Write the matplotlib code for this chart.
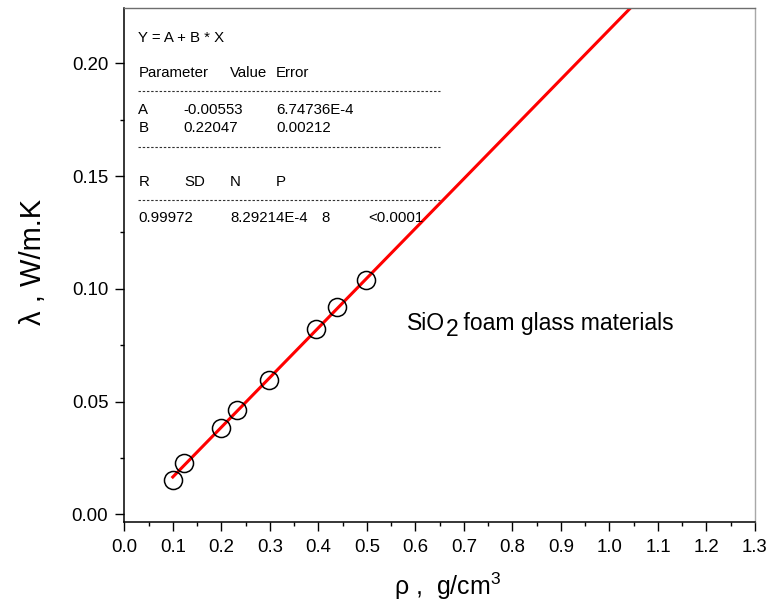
import matplotlib
matplotlib.use('Agg')
import matplotlib.pyplot as plt
from matplotlib.ticker import MultipleLocator
import numpy as np

plt.rcParams['font.family'] = ['Liberation Sans', 'DejaVu Sans']
plt.rcParams['mathtext.fontset'] = 'custom'
plt.rcParams['mathtext.rm'] = 'Liberation Sans'

# 密度 (g/cm3) 與導熱係數 (W/m.K)
density = [0.100, 0.124, 0.199, 0.233, 0.299, 0.395, 0.439, 0.498]
conductivity = [0.0152, 0.0229, 0.0384, 0.0461, 0.0595, 0.0823, 0.0920, 0.1037]

# 線性擬合結果 Y = A + B * X
fit_A = -0.00553
fit_B = 0.22047
fit_A_err = '6.74736E-4'
fit_B_err = '0.00212'
fit_R = '0.99972'
fit_SD = '8.29214E-4'
fit_N = '8'
fit_P = '<0.0001'
fit_x_range = [0.1, 1.2]

fig = plt.figure(figsize=(7.84, 6.06), dpi=100)
ax = fig.add_axes([0.1585, 0.1391, 0.8045, 0.8477])

# 擬合直線
fit_x = np.array(fit_x_range)
ax.plot(fit_x, fit_A + fit_B * fit_x, color='red', lw=2.2, zorder=2)

# 實驗數據點
ax.plot(density, conductivity, 'o', ms=13, mfc='none', mec='black', mew=1.1, zorder=3)

ax.set_xlim(0.0, 1.3)
ax.set_ylim(-0.0033, 0.2245)
ax.xaxis.set_major_locator(MultipleLocator(0.1))
ax.xaxis.set_minor_locator(MultipleLocator(0.05))
ax.yaxis.set_major_locator(MultipleLocator(0.05))
ax.yaxis.set_minor_locator(MultipleLocator(0.025))
ax.xaxis.set_major_formatter(lambda v, p: f'{v:.1f}')
ax.yaxis.set_major_formatter(lambda v, p: f'{v:.2f}')

ax.tick_params(which='both', direction='out', width=1.0, top=False, right=False,
               labelsize=13.4, colors='black')
ax.tick_params(which='major', length=6.5)
ax.tick_params(which='minor', length=3.2)
ax.tick_params(axis='x', pad=6)
ax.tick_params(axis='y', pad=5)

for side in ['left', 'bottom']:
    ax.spines[side].set_linewidth(1.1)
    ax.spines[side].set_color('black')
ax.spines['top'].set_color('#6e6e6e')
ax.spines['right'].set_color('#a8a8a8')
ax.spines['top'].set_linewidth(1.0)
ax.spines['right'].set_linewidth(1.0)

ax.set_xlabel(r'ρ ,  g/cm$^3$', fontsize=18)
ax.set_ylabel('λ , W/m.K', fontsize=21)
ax.xaxis.set_label_coords(0.512, -0.095)
ax.yaxis.set_label_coords(-0.122, 0.505)

# SiO2 標註, 下標 2 與正文同大小
label_fs = 16.5
t_sio = ax.text(0.448, 0.373, 'SiO', transform=ax.transAxes,
                fontsize=label_fs, ha='left', va='baseline')
t_sub = ax.annotate('2', xy=(1, 0), xycoords=t_sio, xytext=(0.5, -4),
                    textcoords='offset points', fontsize=label_fs,
                    ha='left', va='bottom')
ax.annotate(' foam glass materials', xy=(1, 0), xycoords=t_sub,
            xytext=(-1, 4), textcoords='offset points', fontsize=label_fs,
            ha='left', va='bottom')


# 擬合參數表 (以像素位置換算成座標軸比例)
def fx(px):
    return (px - 124.3) / 630.7


def fy(py):
    return (521.7 - py) / 513.7


box_fs = 10.8
table_rows = [
    (41.7, [(138.3, 'Y = A + B * X')]),
    (76.7, [(138.3, 'Parameter'), (230, 'Value'), (276, 'Error')]),
    (114.3, [(138.3, 'A'), (183.3, f'{fit_A:.5f}'), (276, fit_A_err)]),
    (132.3, [(138.3, 'B'), (183.3, f'{fit_B:.5f}'), (276, fit_B_err)]),
    (186, [(138.3, 'R'), (184, 'SD'), (230, 'N'), (276, 'P')]),
    (222.3, [(138.3, fit_R), (230, fit_SD), (321.7, fit_N), (368.3, fit_P)]),
]
for py, cells in table_rows:
    for px, s in cells:
        ax.text(fx(px), fy(py), s, transform=ax.transAxes, fontsize=box_fs,
                ha='left', va='baseline', color='black')

for py in [91, 146.7, 200]:
    ax.plot([fx(138.3), fx(440)], [fy(py), fy(py)], transform=ax.transAxes,
            color='#333333', lw=0.8, ls=(0, (2.2, 1.6)), clip_on=False)

fig.savefig('out.png', dpi=100)
